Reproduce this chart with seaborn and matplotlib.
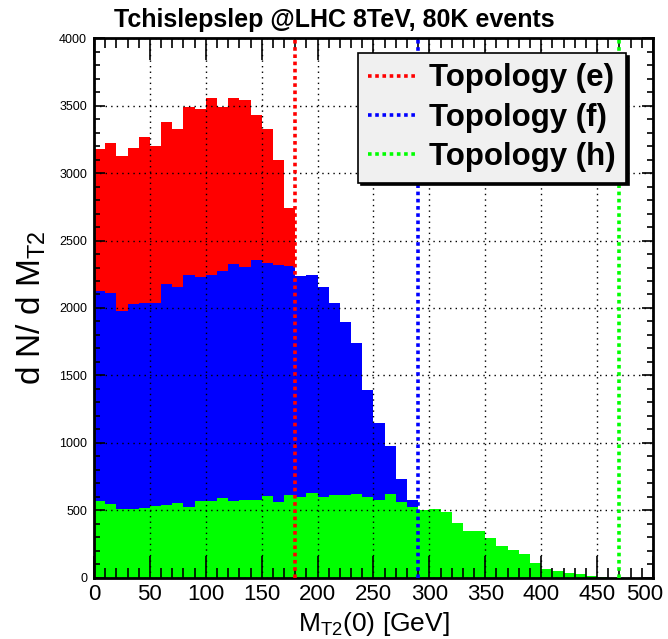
"""MT2(0) distributions for three topologies, ROOT-like histogram style."""

import matplotlib
matplotlib.use("Agg")

import matplotlib.pyplot as plt
import numpy as np
import pandas as pd
import seaborn as sns
from matplotlib.lines import Line2D
from matplotlib.ticker import FuncFormatter, MultipleLocator

# bin edges are 0,10,20,... GeV; each list starts at the 0-10 bin
red_counts = [3178, 3220, 3128, 3185, 3264, 3200, 3375, 3323, 3491, 3476,
              3558, 3491, 3558, 3541, 3430, 3328, 3094, 2743]
blue_counts = [2124, 2111, 1978, 2032, 2037, 2037, 2178, 2158, 2244, 2230,
               2242, 2274, 2326, 2306, 2356, 2331, 2316, 2311, 2237, 2244,
               2156, 2037, 1895, 1740, 1390, 1146, 978, 731, 578]
green_counts = [570, 548, 509, 509, 516, 531, 543, 556, 526, 570,
                573, 593, 573, 578, 578, 608, 565, 615, 602, 632,
                602, 617, 617, 622, 598, 580, 622, 562, 528, 504,
                509, 489, 410, 346, 346, 294, 237, 207, 175, 109,
                67, 52, 37, 27, 17, 5]
endpoints = [180, 290, 470]
labels = ["Topology (e)", "Topology (f)", "Topology (h)"]
colors = ["#ff0000", "#0000ff", "#00ff00"]

BIN_WIDTH = 10
X_MAX = 500

plt.rcParams["font.family"] = ["Liberation Sans", "DejaVu Sans"]
plt.rcParams["mathtext.fontset"] = "custom"
plt.rcParams["mathtext.rm"] = "Liberation Sans"
plt.rcParams["mathtext.it"] = "Liberation Sans"

fig = plt.figure(figsize=(6.68, 6.39), dpi=100)
ax = fig.add_axes([0.1407, 0.0955, 0.8368, 0.845])

for counts, color in zip([red_counts, blue_counts, green_counts], colors):
    n_bins = len(counts)
    df = pd.DataFrame({"mt2": np.arange(n_bins) * BIN_WIDTH + BIN_WIDTH / 2,
                       "n": counts})
    sns.histplot(data=df, x="mt2", weights="n", binwidth=BIN_WIDTH,
                 binrange=(0, n_bins * BIN_WIDTH), color=color,
                 alpha=1, linewidth=0, ax=ax)

for xpos, color in zip(endpoints, colors):
    ax.axvline(xpos, color=color, linewidth=2.6, linestyle=(0, (1, 1)), zorder=5)

ax.set_xlim(0, X_MAX)
ax.set_ylim(0, 4000)
ax.xaxis.set_major_locator(MultipleLocator(50))
ax.xaxis.set_minor_locator(MultipleLocator(10))
ax.yaxis.set_major_locator(MultipleLocator(500))
ax.yaxis.set_minor_locator(MultipleLocator(100))
# last x label is drawn separately, nudged inside the canvas like ROOT does
ax.xaxis.set_major_formatter(FuncFormatter(lambda v, _: "" if v >= X_MAX else f"{v:.0f}"))
ax.annotate(str(X_MAX), xy=(X_MAX, 0), xycoords=("data", "axes fraction"),
            xytext=(-6, -4), textcoords="offset points",
            ha="center", va="top", fontsize=16)
ax.set_axisbelow(False)
ax.grid(True, which="major", color="black", linestyle=(0, (1, 3)), linewidth=1)

ax.tick_params(axis="both", which="both", direction="in", top=True, right=True)
ax.tick_params(axis="x", which="major", length=16, width=1.2, labelsize=16, pad=4)
ax.tick_params(axis="x", which="minor", length=7, width=1.2)
ax.tick_params(axis="y", which="major", length=8, width=1.2, labelsize=9, pad=5)
ax.tick_params(axis="y", which="minor", length=4, width=1.2)
for spine in ax.spines.values():
    spine.set_linewidth(2)

ax.set_xlabel(r"M$_{\mathregular{T2}}$(0) [GeV]", fontsize=19, labelpad=4)
ax.set_ylabel(r"d N/ d M$_{\mathregular{T2}}$", fontsize=24, labelpad=8)
fig.suptitle("Tchislepslep @LHC 8TeV, 80K events", fontsize=18,
             fontweight="bold", x=0.5, y=0.969, va="center")

handles = [Line2D([0], [0], color=c, linewidth=2.6, linestyle=(0, (1, 1)))
           for c in colors]
leg = ax.legend(handles, labels, loc="upper left",
                bbox_to_anchor=(0.472, 0.972), borderaxespad=0,
                prop={"size": 22.5, "weight": "bold"}, handlelength=1.55,
                handletextpad=0.4, labelspacing=0.3, borderpad=0.33,
                fancybox=False, framealpha=1, edgecolor="black",
                shadow={"color": "black", "alpha": 1})
leg.get_frame().set_facecolor("#f0f0f0")
leg.get_frame().set_linewidth(1.2)
leg.set_zorder(10)

fig.savefig("out.png", dpi=100)
